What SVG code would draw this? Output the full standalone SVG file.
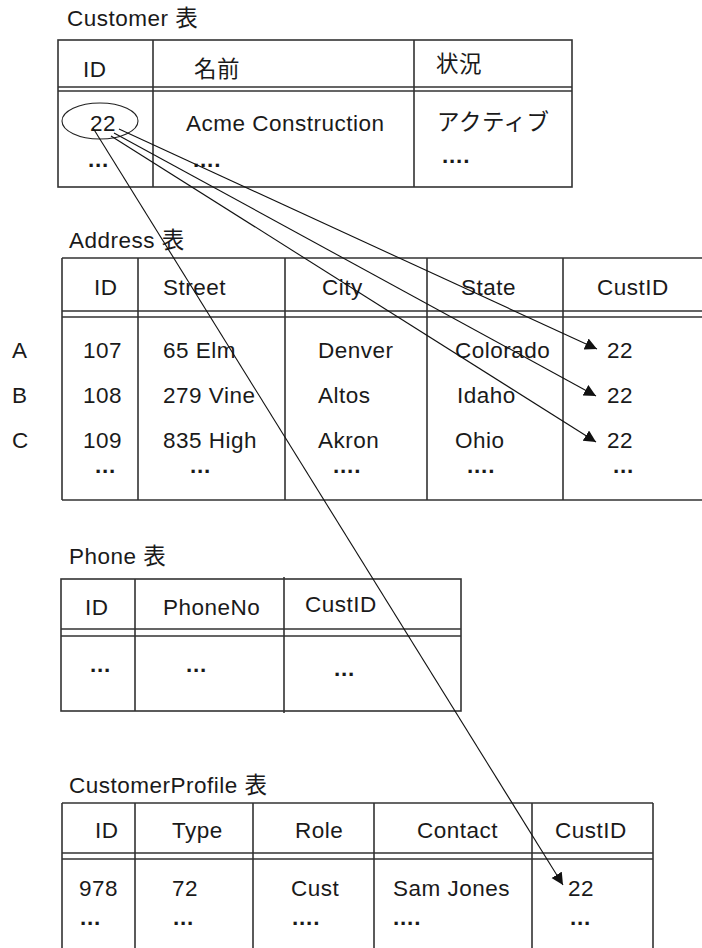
<svg xmlns="http://www.w3.org/2000/svg" width="702" height="948" viewBox="0 0 702 948">
<style>
text{font-family:"Liberation Sans","Noto Sans CJK JP",sans-serif;font-size:22.5px;fill:#1a1a1a;letter-spacing:0.5px}
text.d{font-weight:bold;letter-spacing:0.8px}
.t{fill:none;stroke:#333;stroke-width:1.6}
.c{fill:none;stroke:#111;stroke-width:1.1}
</style>
<defs>
<marker id="ah" markerUnits="userSpaceOnUse" markerWidth="14" markerHeight="14" refX="12" refY="6" orient="auto">
<path d="M0,0 L12,6 L0,12 Z" fill="#111"/>
</marker>
</defs>
<rect width="702" height="948" fill="#fff"/>

<g id="customer">
<text x="67" y="26">Customer 表</text>
<rect class="t" x="58" y="40" width="514" height="147"/>
<path class="t" d="M153,40V187M414,40V187M58,87H572M58,91H572"/>
<text x="83" y="77">ID</text>
<text x="194" y="77">名前</text>
<text x="436" y="72">状況</text>
<ellipse cx="100" cy="121" rx="38" ry="18" fill="none" stroke="#222" stroke-width="1.1"/>
<text x="90" y="131">22</text>
<text x="186" y="131">Acme Construction</text>
<text x="437" y="130">アクティブ</text>
<text class="d" x="88" y="167">...</text>
<text class="d" x="193" y="167">....</text>
<text class="d" x="442" y="163">....</text>
</g>

<g id="address">
<text x="69" y="248">Address 表</text>
<path class="t" d="M62,258H702M62,500H702M62,258V500M138,258V500M285,258V500M427,258V500M563,258V500M62,311H702M62,317H702"/>
<text x="94" y="295">ID</text>
<text x="163" y="295">Street</text>
<text x="322" y="295">City</text>
<text x="461" y="295">State</text>
<text x="597" y="295">CustID</text>
<text x="12" y="358">A</text>
<text x="12" y="403">B</text>
<text x="12" y="448">C</text>
<text x="83" y="358">107</text>
<text x="163" y="358">65 Elm</text>
<text x="318" y="358">Denver</text>
<text x="455" y="358">Colorado</text>
<text x="607" y="358">22</text>
<text x="83" y="403">108</text>
<text x="163" y="403">279 Vine</text>
<text x="318" y="403">Altos</text>
<text x="457" y="403">Idaho</text>
<text x="607" y="403">22</text>
<text x="83" y="448">109</text>
<text x="163" y="448">835 High</text>
<text x="318" y="448">Akron</text>
<text x="455" y="448">Ohio</text>
<text x="607" y="448">22</text>
<text class="d" x="95" y="473">...</text>
<text class="d" x="190" y="473">...</text>
<text class="d" x="333" y="473">....</text>
<text class="d" x="467" y="473">....</text>
<text class="d" x="613" y="473">...</text>
</g>

<g id="phone">
<text x="69" y="564">Phone 表</text>
<rect class="t" x="61" y="579" width="400" height="132"/>
<path class="t" d="M135,579V711M284,577V713M61,629H461M61,636H461"/>
<text x="85" y="615">ID</text>
<text x="163" y="615">PhoneNo</text>
<text x="305" y="612">CustID</text>
<text class="d" x="90" y="672">...</text>
<text class="d" x="186" y="672">...</text>
<text class="d" x="334" y="676">...</text>
</g>

<g id="customerprofile">
<text x="69" y="793">CustomerProfile 表</text>
<path class="t" d="M62,803H653M62,803V948M135,803V948M253,803V948M374,803V948M532,803V948M653,803V948M62,853H653M62,859H653"/>
<text x="95" y="838">ID</text>
<text x="172" y="838">Type</text>
<text x="295" y="838">Role</text>
<text x="417" y="838">Contact</text>
<text x="555" y="838">CustID</text>
<text x="79" y="896">978</text>
<text x="172" y="896">72</text>
<text x="291" y="896">Cust</text>
<text x="393" y="896">Sam Jones</text>
<text x="568" y="896">22</text>
<text class="d" x="80" y="925">...</text>
<text class="d" x="173" y="925">...</text>
<text class="d" x="292" y="925">....</text>
<text class="d" x="393" y="925">....</text>
<text class="d" x="570" y="925">...</text>
</g>

<g id="connectors">
<line class="c" x1="119" y1="129" x2="597" y2="349" marker-end="url(#ah)"/>
<line class="c" x1="114" y1="133" x2="596" y2="396" marker-end="url(#ah)"/>
<line class="c" x1="111" y1="136" x2="596" y2="442" marker-end="url(#ah)"/>
<line class="c" x1="93" y1="128" x2="563" y2="885" marker-end="url(#ah)"/>
</g>
</svg>
